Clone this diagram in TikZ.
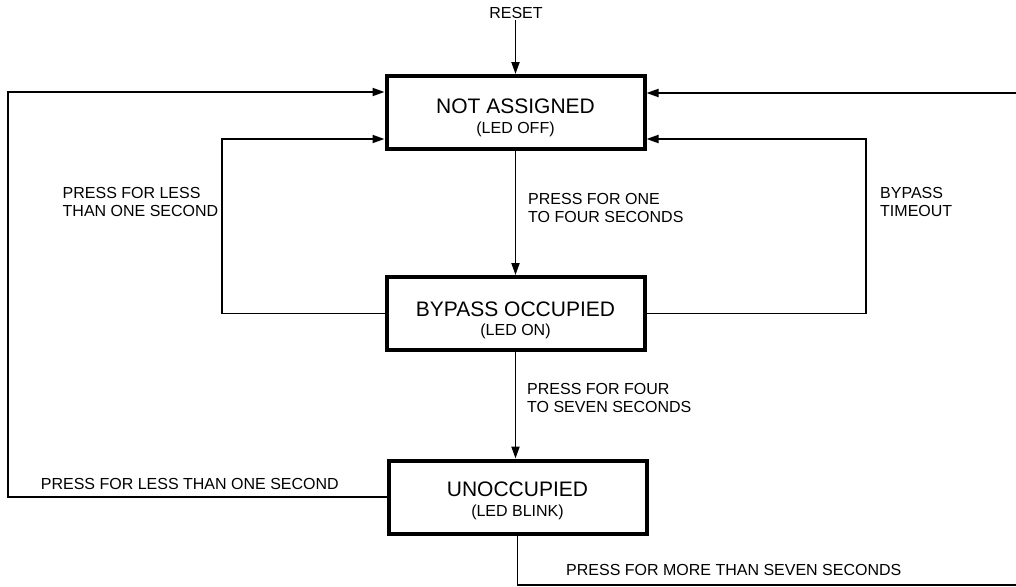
\documentclass[tikz,border=0pt]{standalone}
\usepackage{fontspec}
\setmainfont{Liberation Sans}
\usetikzlibrary{arrows.meta}
\begin{document}
\begin{tikzpicture}[x=1pt,y=-1pt,
  conn/.style={line width=1.9pt, -{Triangle[length=12pt,width=8pt]}},
  plain/.style={line width=1.9pt},
  state/.style={draw, line width=4pt, minimum width=258pt, minimum height=73pt, inner sep=0pt},
  ttl/.style={anchor=base, font=\fontsize{21}{24}\selectfont, inner sep=0pt},
  sub/.style={anchor=base, font=\fontsize{16}{18}\selectfont, inner sep=0pt},
  lbl/.style={anchor=base west, font=\fontsize{16}{18.5}\selectfont, inner sep=0pt},
]
\useasboundingbox (0,0) rectangle (1016,586);

% states
\node[state] (NA) at (515.5,112.5) {};
\node[state] (BO) at (515.5,313.5) {};
\node[state] (UO) at (517.5,497) {};

\node[ttl] (NAt) at (515.5,113.5) {NOT ASSIGNED};
\node[sub] (NAs) at (515.5,133.7) {(LED OFF)};
\node[ttl] (BOt) at (515.5,316) {BYPASS OCCUPIED};
\node[sub] (BOs) at (515.5,335.7) {(LED ON)};
\node[ttl] (UOt) at (517.5,496.5) {UNOCCUPIED};
\node[sub] (UOs) at (517.5,516.7) {(LED BLINK)};

% reset
\node[anchor=base, font=\fontsize{16}{18}\selectfont, inner sep=0pt] (reset) at (516,18.7) {RESET};
\draw[conn] (NA.north |- reset.south) ++(0,1) -- (NA.north);

% helper coordinates
\coordinate (lo) at (8,92);
\coordinate (li) at (222,139);
\coordinate (ri) at (866,139);
\coordinate (ro) at (1016,93);
\coordinate (bo) at (1016,585);

% connectors
\draw[conn] (NA.south) -- (BO.north);
\draw[conn] (BO.south) -- (BO.south |- UO.north);
\draw[conn] (UO.west) -| (lo) -- (NA.west |- lo);
\draw[conn] (BO.west) -| (li) -- (NA.west |- li);
\draw[conn] (BO.east) -| (ri) -- (NA.east |- ri);
\draw[conn] (ro) -- (NA.east |- ro);
\draw[plain] (UO.south) |- (bo);

% labels
\node[lbl] (l1) at (62.5,198.3) {\begin{tabular}[t]{@{}l@{}}PRESS FOR LESS\\THAN ONE SECOND\end{tabular}};
\node[lbl] (l2) at (528,204) {\begin{tabular}[t]{@{}l@{}}PRESS FOR ONE\\TO FOUR SECONDS\end{tabular}};
\node[lbl] (l3) at (880,198.4) {\begin{tabular}[t]{@{}l@{}}BYPASS\\TIMEOUT\end{tabular}};
\node[lbl] (l4) at (527,394.2) {\begin{tabular}[t]{@{}l@{}}PRESS FOR FOUR\\TO SEVEN SECONDS\end{tabular}};
\node[lbl] (l5) at (40.7,489.2) {PRESS FOR LESS THAN ONE SECOND};
\node[lbl] (l6) at (566,575.7) {PRESS FOR MORE THAN SEVEN SECONDS};
\end{tikzpicture}
\end{document}
